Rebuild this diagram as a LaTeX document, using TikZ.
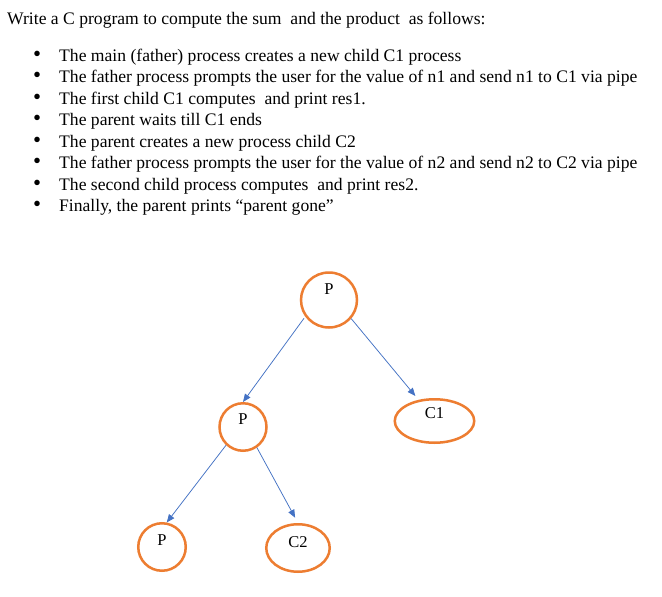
\documentclass[tikz,border=0pt]{standalone}
\usepackage{fontspec}
\setmainfont{Liberation Serif}
\usetikzlibrary{shapes.geometric}
\usetikzlibrary{arrows.meta}

\definecolor{procorange}{HTML}{ED7D31}
\definecolor{linkblue}{HTML}{4472C4}

\newcommand{\bul}{\makebox[26pt][l]{\smash{\scalebox{1.3}{\textbullet}}}}

\tikzset{
  textline/.style={anchor=base west, inner sep=0pt, font=\fontsize{17.6}{20}\selectfont},
  proc/.style={ellipse, draw=procorange, line width=2.5pt, inner sep=0pt, font=\fontsize{16.5}{19}\selectfont},
  link/.style={draw=linkblue, line width=0.75pt, -{Triangle[length=8pt,width=6.5pt]}},
}

\begin{document}
\begin{tikzpicture}[x=1pt,y=-1pt]
    \path[use as bounding box, fill=white] (0,0) rectangle (662,597); % page frame
    % the exercise text
    \node[textline] (title) at (7,24) {Write a C program to compute the sum\ \ and the product\ \ as follows:};
    \node[textline] (item1) at (33,61) {\bul The main (father) process creates a new child C1 process};
    \node[textline] (item2) at (33,82.5) {\bul The father process prompts the user for the value of n1 and send n1 to C1 via pipe};
    \node[textline] (item3) at (33,104) {\bul The first child C1 computes\ \ and print res1.};
    \node[textline] (item4) at (33,125.5) {\bul The parent waits till C1 ends};
    \node[textline] (item5) at (33,147) {\bul The parent creates a new process child C2};
    \node[textline] (item6) at (33,168.5) {\bul The father process prompts the user for the value of n2 and send n2 to C2 via pipe};
    \node[textline] (item7) at (33,190) {\bul The second child process computes\ \ and print res2.};
    \node[textline] (item8) at (33,211.5) {\bul Finally, the parent prints “parent gone”};
    % the process tree
    \node[proc, minimum width=56pt, minimum height=55pt, text depth=22pt] (pTop) at (329,300) {P};
    \node[proc, minimum width=47pt, minimum height=47.5pt, text depth=16pt] (pMid) at (243,427) {P};
    \node[proc, minimum width=79.5pt, minimum height=43.5pt, text depth=15pt] (c1) at (434.5,421) {C1};
    \node[proc, minimum width=47.5pt, minimum height=47.5pt, text depth=14pt] (pBot) at (162,547) {P};
    \node[proc, minimum width=63.5pt, minimum height=47.5pt, text depth=12pt] (c2) at (298,548) {C2};
    \draw[link, shorten <=2pt] (pTop.215) -- (pMid.north);
    \draw[link, shorten >=5pt] (pTop.-40) -- (c1.127);
    \draw[link] (pMid.227) -- (pBot.79);
    \draw[link, shorten >=6pt] (pMid.-56) -- (c2.north);
\end{tikzpicture}
\end{document}
